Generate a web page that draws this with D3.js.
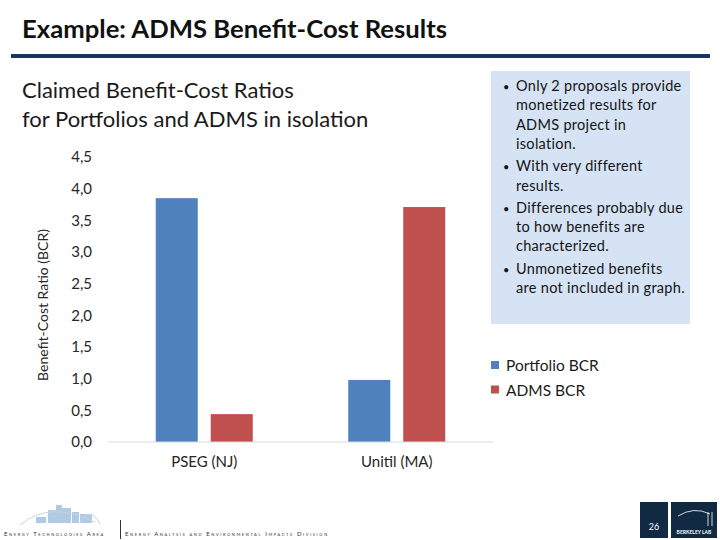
<!DOCTYPE html>
<html>
<head>
<meta charset="utf-8">
<script src="https://cdn.jsdelivr.net/npm/d3@7"></script>
<style>
  body { margin: 0; background: #fff; }
  svg { font-family: Lato, "Open Sans", sans-serif; }
</style>
</head>
<body>
<div id="chart"></div>
<script>
// chart data
const categories = ['PSEG (NJ)', 'Unitil (MA)'];
const seriesNames = ['Portfolio BCR', 'ADMS BCR'];
const portfolioBCR = [3.85, 0.98];
const admsBCR = [0.44, 3.71];
const yTicks = [0, 0.5, 1, 1.5, 2, 2.5, 3, 3.5, 4, 4.5];
const colors = ['#4f81bd', '#c0504d'];

const notes = [
  ['Only 2 proposals provide', 'monetized results for', 'ADMS project in', 'isolation.'],
  ['With very different', 'results.'],
  ['Differences probably due', 'to how benefits are', 'characterized.'],
  ['Unmonetized benefits', 'are not included in graph.']
];

const svg = d3.select('#chart').append('svg')
    .attr('width', 720)
    .attr('height', 540);

// Slide header
svg.append('text')
    .attr('x', 22).attr('y', 38)
    .attr('font-size', 25).attr('font-weight', 'bold')
    .attr('fill', '#111')
    .attr('textLength', 425)
    .attr('lengthAdjust', 'spacingAndGlyphs')
    .text('Example: ADMS Benefit-Cost Results');

svg.append('rect')
    .attr('x', 11).attr('y', 54).attr('width', 699).attr('height', 4)
    .attr('fill', '#1b3562');

svg.append('text')
    .attr('x', 22).attr('y', 98)
    .attr('font-size', 22).attr('fill', '#1a1a1a')
    .text('Claimed Benefit-Cost Ratios');
svg.append('text')
    .attr('x', 22).attr('y', 127)
    .attr('font-size', 22).attr('fill', '#1a1a1a')
    .text('for Portfolios and ADMS in isolation');

// Chart area
const plot = {left: 108, right: 493, top: 157, bottom: 442};

const y = d3.scaleLinear()
    .domain([0, 4.5])
    .range([plot.bottom, plot.top]);

const x0 = d3.scaleBand()
    .domain(categories)
    .range([plot.left, plot.right]);

const x1 = d3.scaleBand()
    .domain(seriesNames)
    .range([0, x0.bandwidth()])
    .paddingInner(0.236)
    .paddingOuter(0.868);

const rows = categories.map((c, i) => ({
  category: c,
  values: [portfolioBCR[i], admsBCR[i]]
}));

const groups = svg.selectAll('.group')
    .data(rows)
  .join('g')
    .attr('class', 'group')
    .attr('transform', d => `translate(${x0(d.category)},0)`);

groups.selectAll('rect')
    .data(d => d.values.map((v, j) => ({name: seriesNames[j], value: v, j})))
  .join('rect')
    .attr('x', d => x1(d.name))
    .attr('width', x1.bandwidth())
    .attr('y', d => y(d.value))
    .attr('height', d => y(0) - y(d.value))
    .attr('fill', d => colors[d.j]);

// baseline
svg.append('line')
    .attr('x1', plot.left).attr('x2', plot.right)
    .attr('y1', y(0)).attr('y2', y(0))
    .attr('stroke', '#d9d9d9').attr('stroke-width', 1);

// y axis labels
const fmt = d => d3.format('.1f')(d).replace('.', ',');
const yAxis = svg.append('g')
    .attr('transform', 'translate(92,0)')
    .call(d3.axisLeft(y).tickValues(yTicks).tickFormat(fmt).tickSize(0).tickPadding(0));
yAxis.select('.domain').remove();
yAxis.selectAll('text')
    .attr('font-family', 'Lato, sans-serif')
    .attr('font-size', 15)
    .attr('fill', '#262626');

// x axis labels
const xAxis = svg.append('g')
    .attr('transform', `translate(0,${plot.bottom})`)
    .call(d3.axisBottom(x0).tickSize(0).tickPadding(14));
xAxis.select('.domain').remove();
xAxis.selectAll('text')
    .attr('font-family', 'Lato, sans-serif')
    .attr('font-size', 15)
    .attr('fill', '#262626');

svg.append('text')
    .attr('transform', 'translate(48,305) rotate(-90)')
    .attr('text-anchor', 'middle')
    .attr('font-size', 14).attr('fill', '#262626')
    .text('Benefit-Cost Ratio (BCR)');

// Notes box
svg.append('rect')
    .attr('x', 491).attr('y', 71).attr('width', 199).attr('height', 253)
    .attr('fill', '#d5e3f5');

let ly = 91;
const noteG = svg.append('g')
    .attr('font-size', 14.5).attr('fill', '#141414')
    .attr('letter-spacing', 0.3);
notes.forEach(lines => {
  noteG.append('text')
      .attr('x', 503).attr('y', ly)
      .attr('font-size', 11)
      .text('•');
  lines.forEach(t => {
    noteG.append('text')
        .attr('x', 516).attr('y', ly)
        .text(t);
    ly += 19.3;
  });
  ly += 3;
});

// Legend
const legend = svg.selectAll('.legend')
    .data(seriesNames)
  .join('g')
    .attr('class', 'legend')
    .attr('transform', (d, i) => `translate(491,${361 + i * 24.5})`);
legend.append('rect')
    .attr('width', 8).attr('height', 8)
    .attr('fill', (d, i) => colors[i]);
legend.append('text')
    .attr('x', 15).attr('y', 10)
    .attr('font-size', 15.5).attr('fill', '#1a1a1a')
    .text(d => d);

// Footer
const foot = svg.append('g');
const skyline = [[36, 517, 10, 6], [48, 510, 8, 13], [56, 505, 6, 18], [62, 508, 9, 15], [72, 512, 7, 11], [80, 514, 12, 9]];
foot.selectAll('.bld')
    .data(skyline)
  .join('rect')
    .attr('class', 'bld')
    .attr('x', d => d[0]).attr('y', d => d[1])
    .attr('width', d => d[2]).attr('height', d => d[3])
    .attr('fill', '#8fb3d9').attr('opacity', 0.7);
foot.append('path')
    .attr('d', 'M20,525 Q50,500 95,522 M80,523 Q90,505 100,524')
    .attr('fill', 'none').attr('stroke', '#c5d4e3').attr('stroke-width', 1);
foot.append('text')
    .attr('x', 4).attr('y', 536)
    .attr('font-size', 6).attr('letter-spacing', 1.6).attr('fill', '#333')
    .style('font-variant', 'small-caps')
    .text('Energy Technologies Area');
foot.append('line')
    .attr('x1', 120.5).attr('x2', 120.5).attr('y1', 520).attr('y2', 539)
    .attr('stroke', '#333');
foot.append('text')
    .attr('x', 125).attr('y', 536)
    .attr('font-size', 6).attr('letter-spacing', 1.6).attr('fill', '#333')
    .style('font-variant', 'small-caps')
    .text('Energy Analysis and   Environmental Impacts Division');

foot.append('rect')
    .attr('x', 640).attr('y', 502).attr('width', 28).attr('height', 36)
    .attr('fill', '#102a43');
foot.append('text')
    .attr('x', 654).attr('y', 530).attr('text-anchor', 'middle')
    .attr('font-size', 9).attr('fill', '#fff')
    .text('26');
foot.append('rect')
    .attr('x', 671).attr('y', 502).attr('width', 46).attr('height', 36)
    .attr('fill', '#102a43');
foot.append('path')
    .attr('d', 'M678,516 Q694,506 710,514 M708,512 L708,526 M712,512 L712,526')
    .attr('fill', 'none').attr('stroke', '#fff').attr('stroke-width', 0.8);
foot.append('text')
    .attr('x', 694).attr('y', 534).attr('text-anchor', 'middle')
    .attr('font-size', 5).attr('font-weight', 'bold').attr('fill', '#fff')
    .text('BERKELEY LAB');
</script>
</body>
</html>
